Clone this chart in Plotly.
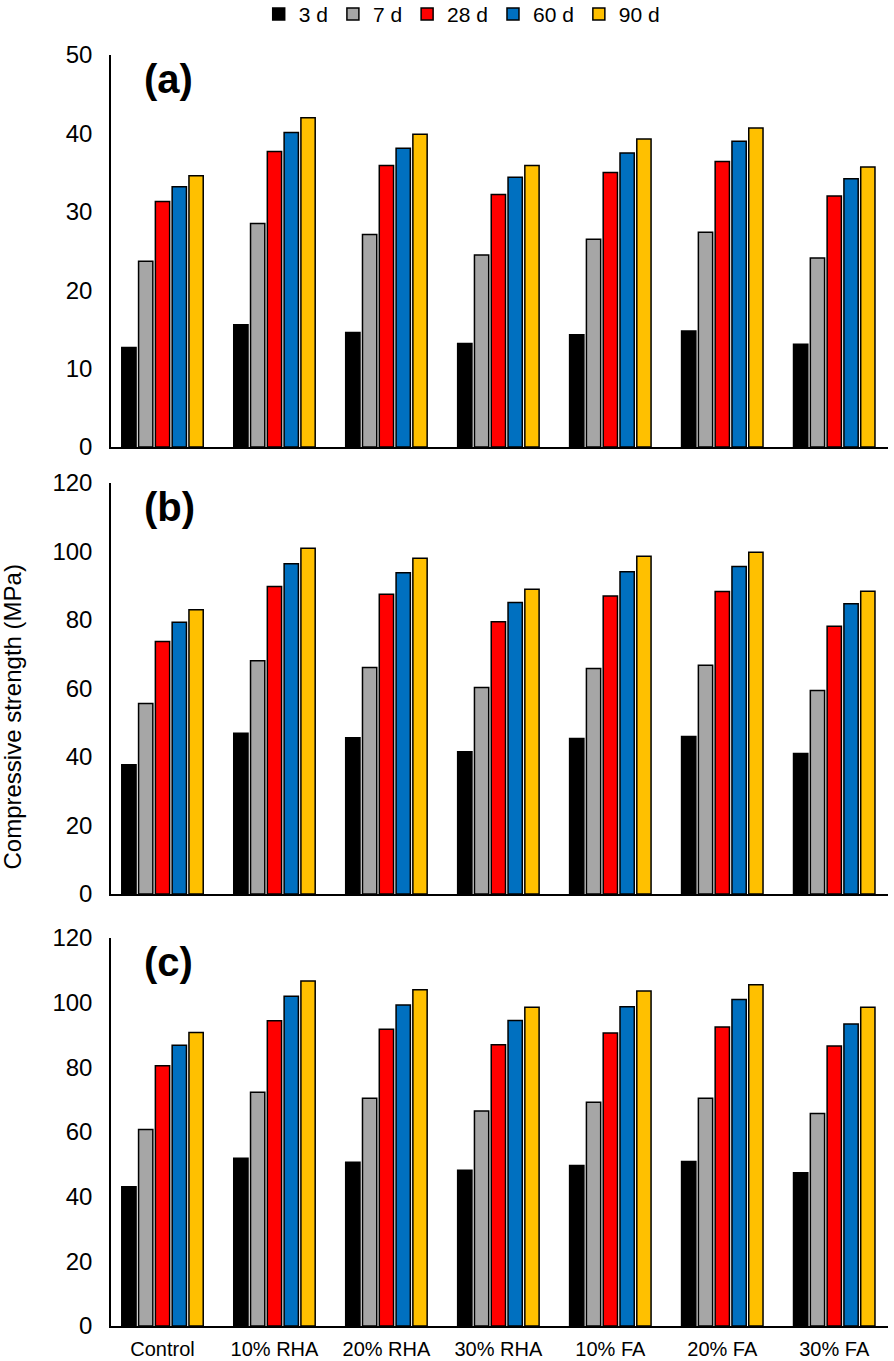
import plotly.graph_objects as go
from plotly.subplots import make_subplots

# Categorias e idades de cura
mixes = ['Control', '10% RHA', '20% RHA', '30% RHA', '10% FA', '20% FA', '30% FA']
ages = ['3 d', '7 d', '28 d', '60 d', '90 d']
colors = ['#000000', '#a6a6a6', '#ff0000', '#0070c0', '#ffc000']

# (a) resistência à compressão (MPa), uma lista por idade
a_3d = [12.7, 15.6, 14.6, 13.2, 14.3, 14.8, 13.1]
a_7d = [23.7, 28.5, 27.1, 24.5, 26.5, 27.4, 24.1]
a_28d = [31.3, 37.7, 35.9, 32.2, 35.0, 36.4, 32.0]
a_60d = [33.2, 40.1, 38.1, 34.4, 37.5, 39.0, 34.2]
a_90d = [34.6, 42.0, 39.9, 35.9, 39.3, 40.7, 35.7]

# (b)
b_3d = [37.7, 46.9, 45.6, 41.5, 45.4, 46.0, 41.0]
b_7d = [55.6, 68.1, 66.1, 60.3, 65.8, 66.8, 59.4]
b_28d = [73.7, 89.8, 87.5, 79.5, 87.0, 88.3, 78.2]
b_60d = [79.3, 96.4, 93.8, 85.1, 94.1, 95.6, 84.7]
b_90d = [83.0, 100.9, 98.0, 89.0, 98.6, 99.8, 88.4]

# (c)
c_3d = [43.1, 51.9, 50.6, 48.2, 49.6, 50.9, 47.4]
c_7d = [60.8, 72.3, 70.4, 66.5, 69.2, 70.4, 65.7]
c_28d = [80.5, 94.4, 91.8, 87.0, 90.6, 92.5, 86.6]
c_60d = [86.8, 102.0, 99.3, 94.5, 98.7, 101.0, 93.4]
c_90d = [90.8, 106.7, 104.0, 98.6, 103.6, 105.5, 98.6]

panels = [
    ('(a)', [a_3d, a_7d, a_28d, a_60d, a_90d], 50, 10),
    ('(b)', [b_3d, b_7d, b_28d, b_60d, b_90d], 120, 20),
    ('(c)', [c_3d, c_7d, c_28d, c_60d, c_90d], 120, 20),
]

fig = make_subplots(rows=3, cols=1, shared_xaxes=True, vertical_spacing=0.03)

for r, (label, series, ymax, dtick) in enumerate(panels, start=1):
    for age, vals, col in zip(ages, series, colors):
        fig.add_trace(go.Bar(
            x=mixes, y=vals, name=age,
            marker=dict(color=col, line=dict(color='#000000', width=1.5)),
            showlegend=(r == 1)
        ), row=r, col=1)
    fig.update_yaxes(range=[0, ymax], dtick=dtick, row=r, col=1)

fig.update_layout(
    width=894, height=1361,
    margin=dict(l=111, r=6, t=55, b=35, autoexpand=False),
    plot_bgcolor='white', paper_bgcolor='white',
    font=dict(family='Liberation Sans, Arial, sans-serif', color='#000000', size=18),
    barmode='group', bargap=0.25, bargroupgap=0.15,
    legend=dict(orientation='h', x=0.452, xanchor='center', y=1.032, yanchor='middle',
                font=dict(size=21), itemwidth=30, traceorder='normal'),
    yaxis=dict(domain=[0.6916, 1.0]),
    yaxis2=dict(domain=[0.3399, 0.6633]),
    yaxis3=dict(domain=[0.0, 0.3053]),
)

fig.update_yaxes(showgrid=False, showline=True, linecolor='#000000', linewidth=1.5,
                 ticks='', zeroline=False, tickfont=dict(size=24), ticklabelstandoff=12)
fig.update_xaxes(showgrid=False, showline=True, linecolor='#000000', linewidth=2,
                 ticks='', tickfont=dict(size=20), range=[-0.46, 6.48],
                 ticklabelstandoff=4)

# rótulos dos painéis
for i, (label, _, ymax, _) in enumerate(panels, start=1):
    yref = 'y domain' if i == 1 else f'y{i} domain'
    fig.add_annotation(text=f'<b>{label}</b>', xref='paper', yref=yref,
                       x=0.04, y=1.0, xanchor='left', yanchor='top',
                       showarrow=False, font=dict(size=40))

fig.add_annotation(text='Compressive strength (MPa)', xref='paper', yref='paper',
                   x=-0.127, y=0.479, xanchor='center', yanchor='middle', textangle=-90,
                   showarrow=False, font=dict(size=24))

# sem a margem padrão de 8px do body, e sem a barra de ferramentas
fig.write_html("out.html", config={'displayModeBar': False},
               post_script="document.body.style.margin='0';")
